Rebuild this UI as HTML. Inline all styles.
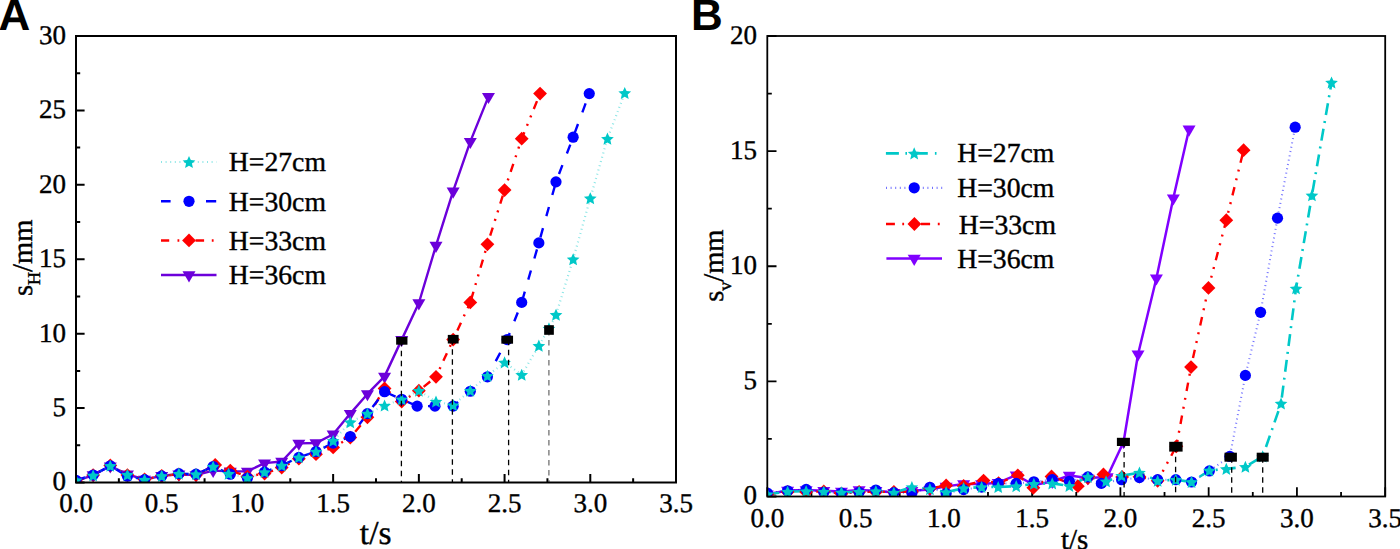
<!DOCTYPE html>
<html><head><meta charset="utf-8"><style>
html,body{margin:0;padding:0;background:#fff;width:1400px;height:549px;overflow:hidden;}
svg{display:block;}
text{text-rendering:geometricPrecision;}
</style></head><body>
<svg width="1400" height="549" viewBox="0 0 1400 549">
<rect width="100%" height="100%" fill="#fff"/>
<clipPath id="clipA"><rect x="76" y="36" width="600" height="446.5"/></clipPath>
<path d="M76,482.5 v-8.6 M118.86,482.5 v-4.2 M161.71,482.5 v-8.6 M204.57,482.5 v-4.2 M247.43,482.5 v-8.6 M290.29,482.5 v-4.2 M333.14,482.5 v-8.6 M376,482.5 v-4.2 M418.86,482.5 v-8.6 M461.71,482.5 v-4.2 M504.57,482.5 v-8.6 M547.43,482.5 v-4.2 M590.29,482.5 v-8.6 M633.14,482.5 v-4.2 M676,482.5 v-8.6 M76,482.5 h8.6 M76,445.29 h4.2 M76,408.08 h8.6 M76,370.88 h4.2 M76,333.67 h8.6 M76,296.46 h4.2 M76,259.25 h8.6 M76,222.04 h4.2 M76,184.83 h8.6 M76,147.62 h4.2 M76,110.42 h8.6 M76,73.21 h4.2 M76,36 h8.6" stroke="#000" stroke-width="2" fill="none"/>
<g clip-path="url(#clipA)">
<path d="M76,481.01 L93.14,475.06 L110.29,466.13 L127.43,474.31 L144.57,479.52 L161.71,475.8 L178.86,474.31 L196,475.06 L213.14,470.59 L230.29,471.34 L247.43,471.34 L264.57,463.15 L281.71,461.51 L298.86,443.36 L316,443.06 L333.14,434.28 L350.29,413.59 L367.43,393.94 L384.57,376.38 L401.71,339.62 L418.86,303.01 L436,245.56 L453.14,191.23 L470.29,141.67 L488.46,96.58" fill="none" stroke="#6C00DA" stroke-width="2.4"  stroke-linejoin="round"/>
<path d="M76,481.01 L93.14,475.06 L110.29,465.38 L127.43,475.06 L144.57,479.52 L161.71,475.8 L178.86,474.31 L196,475.06 L215.2,464.94 L230.29,470.59 L247.43,476.55 L264.57,473.57 L281.71,467.62 L298.86,458.69 L316,454.22 L333.14,447.38 L350.29,437.55 L367.43,417.31 L384.57,388.44 L401.71,401.53 L418.86,390.67 L436,376.83 L453.14,339.62 L470.29,302.41 L487.43,244.37 L504.57,190.04 L521.71,138.69 L540.06,93.6" fill="none" stroke="#FF0000" stroke-width="2.4" stroke-dasharray="8.5 7 2 7 2 7" stroke-linejoin="round"/>
<path d="M76,480.27 L93.14,475.06 L110.29,465.83 L127.43,476.25 L144.57,479.67 L161.71,475.95 L178.86,473.72 L196,474.17 L213.14,466.57 L230.29,474.17 L247.43,478.04 L264.57,472.08 L281.71,465.53 L298.86,457.35 L316,451.54 L333.14,443.06 L350.29,436.51 L367.43,413.59 L384.57,391.71 L401.71,399.3 L417.14,406.15 L434.97,406.15 L453.14,406.15 L470.29,391.27 L487.43,376.83 L507.14,339.62 L521.71,302.41 L538.86,242.88 L556,181.86 L573.14,137.21 L589.26,93.6" fill="none" stroke="#0000FF" stroke-width="2.4" stroke-dasharray="9.5 12.5" stroke-linejoin="round"/>
<path d="M76,480.27 L93.14,475.36 L110.29,465.83 L127.43,474.76 L144.57,479.67 L161.71,475.95 L178.86,473.72 L196,474.17 L213.14,466.57 L228.57,473.72 L247.43,477.89 L264.57,472.08 L281.71,465.53 L298.86,457.35 L316,451.54 L333.14,440.83 L350.29,422.22 L367.43,413.59 L384.57,405.55 L401.71,399.3 L418.86,390.67 L436,401.53 L453.14,405.11 L470.29,390.67 L487.43,375.79 L504.57,362.39 L521.71,374.74 L538.86,345.72 L548.97,328.46 L556,314.76 L573.14,259.25 L590.29,198.23 L607.43,138.69 L624.74,93" fill="none" stroke="#00C8C8" stroke-opacity="0.45" stroke-width="2.2" stroke-dasharray="1 3.4" stroke-linejoin="round"/>
<polygon points="69.5,477.31 82.5,477.31 76,488.41" fill="#6C00DA"/>
<polygon points="86.64,471.36 99.64,471.36 93.14,482.46" fill="#6C00DA"/>
<polygon points="103.79,462.43 116.79,462.43 110.29,473.53" fill="#6C00DA"/>
<polygon points="120.93,470.61 133.93,470.61 127.43,481.71" fill="#6C00DA"/>
<polygon points="138.07,475.82 151.07,475.82 144.57,486.92" fill="#6C00DA"/>
<polygon points="155.21,472.1 168.21,472.1 161.71,483.2" fill="#6C00DA"/>
<polygon points="172.36,470.61 185.36,470.61 178.86,481.71" fill="#6C00DA"/>
<polygon points="189.5,471.36 202.5,471.36 196,482.46" fill="#6C00DA"/>
<polygon points="206.64,466.89 219.64,466.89 213.14,477.99" fill="#6C00DA"/>
<polygon points="223.79,467.64 236.79,467.64 230.29,478.74" fill="#6C00DA"/>
<polygon points="240.93,467.64 253.93,467.64 247.43,478.74" fill="#6C00DA"/>
<polygon points="258.07,459.45 271.07,459.45 264.57,470.55" fill="#6C00DA"/>
<polygon points="275.21,457.81 288.21,457.81 281.71,468.91" fill="#6C00DA"/>
<polygon points="292.36,439.66 305.36,439.66 298.86,450.76" fill="#6C00DA"/>
<polygon points="309.5,439.36 322.5,439.36 316,450.46" fill="#6C00DA"/>
<polygon points="326.64,430.58 339.64,430.58 333.14,441.68" fill="#6C00DA"/>
<polygon points="343.79,409.89 356.79,409.89 350.29,420.99" fill="#6C00DA"/>
<polygon points="360.93,390.24 373.93,390.24 367.43,401.34" fill="#6C00DA"/>
<polygon points="378.07,372.68 391.07,372.68 384.57,383.78" fill="#6C00DA"/>
<polygon points="395.21,335.92 408.21,335.92 401.71,347.02" fill="#6C00DA"/>
<polygon points="412.36,299.31 425.36,299.31 418.86,310.41" fill="#6C00DA"/>
<polygon points="429.5,241.86 442.5,241.86 436,252.96" fill="#6C00DA"/>
<polygon points="446.64,187.53 459.64,187.53 453.14,198.63" fill="#6C00DA"/>
<polygon points="463.79,137.97 476.79,137.97 470.29,149.07" fill="#6C00DA"/>
<polygon points="481.96,92.88 494.96,92.88 488.46,103.98" fill="#6C00DA"/>
<polygon points="76,474.11 82.9,481.01 76,487.91 69.1,481.01" fill="#FF0000"/>
<polygon points="93.14,468.16 100.04,475.06 93.14,481.96 86.24,475.06" fill="#FF0000"/>
<polygon points="110.29,458.48 117.19,465.38 110.29,472.28 103.39,465.38" fill="#FF0000"/>
<polygon points="127.43,468.16 134.33,475.06 127.43,481.96 120.53,475.06" fill="#FF0000"/>
<polygon points="144.57,472.62 151.47,479.52 144.57,486.42 137.67,479.52" fill="#FF0000"/>
<polygon points="161.71,468.9 168.61,475.8 161.71,482.7 154.81,475.8" fill="#FF0000"/>
<polygon points="178.86,467.41 185.76,474.31 178.86,481.21 171.96,474.31" fill="#FF0000"/>
<polygon points="196,468.16 202.9,475.06 196,481.96 189.1,475.06" fill="#FF0000"/>
<polygon points="215.2,458.04 222.1,464.94 215.2,471.84 208.3,464.94" fill="#FF0000"/>
<polygon points="230.29,463.69 237.19,470.59 230.29,477.49 223.39,470.59" fill="#FF0000"/>
<polygon points="247.43,469.65 254.33,476.55 247.43,483.45 240.53,476.55" fill="#FF0000"/>
<polygon points="264.57,466.67 271.47,473.57 264.57,480.47 257.67,473.57" fill="#FF0000"/>
<polygon points="281.71,460.72 288.61,467.62 281.71,474.52 274.81,467.62" fill="#FF0000"/>
<polygon points="298.86,451.79 305.76,458.69 298.86,465.59 291.96,458.69" fill="#FF0000"/>
<polygon points="316,447.32 322.9,454.22 316,461.12 309.1,454.22" fill="#FF0000"/>
<polygon points="333.14,440.48 340.04,447.38 333.14,454.28 326.24,447.38" fill="#FF0000"/>
<polygon points="350.29,430.65 357.19,437.55 350.29,444.45 343.39,437.55" fill="#FF0000"/>
<polygon points="367.43,410.41 374.33,417.31 367.43,424.21 360.53,417.31" fill="#FF0000"/>
<polygon points="384.57,381.54 391.47,388.44 384.57,395.34 377.67,388.44" fill="#FF0000"/>
<polygon points="401.71,394.63 408.61,401.53 401.71,408.43 394.81,401.53" fill="#FF0000"/>
<polygon points="418.86,383.77 425.76,390.67 418.86,397.57 411.96,390.67" fill="#FF0000"/>
<polygon points="436,369.93 442.9,376.83 436,383.73 429.1,376.83" fill="#FF0000"/>
<polygon points="453.14,332.72 460.04,339.62 453.14,346.52 446.24,339.62" fill="#FF0000"/>
<polygon points="470.29,295.51 477.19,302.41 470.29,309.31 463.39,302.41" fill="#FF0000"/>
<polygon points="487.43,237.47 494.33,244.37 487.43,251.27 480.53,244.37" fill="#FF0000"/>
<polygon points="504.57,183.14 511.47,190.04 504.57,196.94 497.67,190.04" fill="#FF0000"/>
<polygon points="521.71,131.79 528.61,138.69 521.71,145.59 514.81,138.69" fill="#FF0000"/>
<polygon points="540.06,86.7 546.96,93.6 540.06,100.5 533.16,93.6" fill="#FF0000"/>
<circle cx="76" cy="480.27" r="5.6" fill="#0000FF"/>
<circle cx="93.14" cy="475.06" r="5.6" fill="#0000FF"/>
<circle cx="110.29" cy="465.83" r="5.6" fill="#0000FF"/>
<circle cx="127.43" cy="476.25" r="5.6" fill="#0000FF"/>
<circle cx="144.57" cy="479.67" r="5.6" fill="#0000FF"/>
<circle cx="161.71" cy="475.95" r="5.6" fill="#0000FF"/>
<circle cx="178.86" cy="473.72" r="5.6" fill="#0000FF"/>
<circle cx="196" cy="474.17" r="5.6" fill="#0000FF"/>
<circle cx="213.14" cy="466.57" r="5.6" fill="#0000FF"/>
<circle cx="230.29" cy="474.17" r="5.6" fill="#0000FF"/>
<circle cx="247.43" cy="478.04" r="5.6" fill="#0000FF"/>
<circle cx="264.57" cy="472.08" r="5.6" fill="#0000FF"/>
<circle cx="281.71" cy="465.53" r="5.6" fill="#0000FF"/>
<circle cx="298.86" cy="457.35" r="5.6" fill="#0000FF"/>
<circle cx="316" cy="451.54" r="5.6" fill="#0000FF"/>
<circle cx="333.14" cy="443.06" r="5.6" fill="#0000FF"/>
<circle cx="350.29" cy="436.51" r="5.6" fill="#0000FF"/>
<circle cx="367.43" cy="413.59" r="5.6" fill="#0000FF"/>
<circle cx="384.57" cy="391.71" r="5.6" fill="#0000FF"/>
<circle cx="401.71" cy="399.3" r="5.6" fill="#0000FF"/>
<circle cx="417.14" cy="406.15" r="5.6" fill="#0000FF"/>
<circle cx="434.97" cy="406.15" r="5.6" fill="#0000FF"/>
<circle cx="453.14" cy="406.15" r="5.6" fill="#0000FF"/>
<circle cx="470.29" cy="391.27" r="5.6" fill="#0000FF"/>
<circle cx="487.43" cy="376.83" r="5.6" fill="#0000FF"/>
<circle cx="507.14" cy="339.62" r="5.6" fill="#0000FF"/>
<circle cx="521.71" cy="302.41" r="5.6" fill="#0000FF"/>
<circle cx="538.86" cy="242.88" r="5.6" fill="#0000FF"/>
<circle cx="556" cy="181.86" r="5.6" fill="#0000FF"/>
<circle cx="573.14" cy="137.21" r="5.6" fill="#0000FF"/>
<circle cx="589.26" cy="93.6" r="5.6" fill="#0000FF"/>
<polygon points="76,474.17 77.82,478.36 82.37,478.8 78.95,481.83 79.94,486.29 76,483.97 72.06,486.29 73.05,481.83 69.63,478.8 74.18,478.36" fill="#00C8C8"/>
<polygon points="93.14,469.26 94.96,473.45 99.51,473.89 96.09,476.91 97.08,481.38 93.14,479.06 89.2,481.38 90.19,476.91 86.77,473.89 91.32,473.45" fill="#00C8C8"/>
<polygon points="110.29,459.73 112.11,463.92 116.66,464.36 113.23,467.39 114.22,471.85 110.29,469.53 106.35,471.85 107.34,467.39 103.91,464.36 108.46,463.92" fill="#00C8C8"/>
<polygon points="127.43,468.66 129.25,472.85 133.8,473.29 130.38,476.32 131.37,480.78 127.43,478.46 123.49,480.78 124.48,476.32 121.06,473.29 125.61,472.85" fill="#00C8C8"/>
<polygon points="144.57,473.57 146.39,477.76 150.94,478.2 147.52,481.23 148.51,485.69 144.57,483.37 140.63,485.69 141.62,481.23 138.2,478.2 142.75,477.76" fill="#00C8C8"/>
<polygon points="161.71,469.85 163.54,474.04 168.09,474.48 164.66,477.51 165.65,481.97 161.71,479.65 157.78,481.97 158.77,477.51 155.34,474.48 159.89,474.04" fill="#00C8C8"/>
<polygon points="178.86,467.62 180.68,471.81 185.23,472.25 181.81,475.28 182.8,479.74 178.86,477.42 174.92,479.74 175.91,475.28 172.49,472.25 177.04,471.81" fill="#00C8C8"/>
<polygon points="196,468.07 197.82,472.26 202.37,472.69 198.95,475.72 199.94,480.19 196,477.87 192.06,480.19 193.05,475.72 189.63,472.69 194.18,472.26" fill="#00C8C8"/>
<polygon points="213.14,460.47 214.96,464.67 219.51,465.1 216.09,468.13 217.08,472.6 213.14,470.27 209.2,472.6 210.19,468.13 206.77,465.1 211.32,464.67" fill="#00C8C8"/>
<polygon points="228.57,467.62 230.39,471.81 234.94,472.25 231.52,475.28 232.51,479.74 228.57,477.42 224.63,479.74 225.62,475.28 222.2,472.25 226.75,471.81" fill="#00C8C8"/>
<polygon points="247.43,471.79 249.25,475.98 253.8,476.42 250.38,479.44 251.37,483.91 247.43,481.59 243.49,483.91 244.48,479.44 241.06,476.42 245.61,475.98" fill="#00C8C8"/>
<polygon points="264.57,465.98 266.39,470.17 270.94,470.61 267.52,473.64 268.51,478.1 264.57,475.78 260.63,478.1 261.62,473.64 258.2,470.61 262.75,470.17" fill="#00C8C8"/>
<polygon points="281.71,459.43 283.54,463.63 288.09,464.06 284.66,467.09 285.65,471.55 281.71,469.23 277.78,471.55 278.77,467.09 275.34,464.06 279.89,463.63" fill="#00C8C8"/>
<polygon points="298.86,451.25 300.68,455.44 305.23,455.88 301.81,458.91 302.8,463.37 298.86,461.05 294.92,463.37 295.91,458.91 292.49,455.88 297.04,455.44" fill="#00C8C8"/>
<polygon points="316,445.44 317.82,449.63 322.37,450.07 318.95,453.1 319.94,457.56 316,455.24 312.06,457.56 313.05,453.1 309.63,450.07 314.18,449.63" fill="#00C8C8"/>
<polygon points="333.14,434.73 334.96,438.92 339.51,439.36 336.09,442.38 337.08,446.85 333.14,444.53 329.2,446.85 330.19,442.38 326.77,439.36 331.32,438.92" fill="#00C8C8"/>
<polygon points="350.29,416.12 352.11,420.31 356.66,420.75 353.23,423.78 354.22,428.24 350.29,425.92 346.35,428.24 347.34,423.78 343.91,420.75 348.46,420.31" fill="#00C8C8"/>
<polygon points="367.43,407.49 369.25,411.68 373.8,412.12 370.38,415.15 371.37,419.61 367.43,417.29 363.49,419.61 364.48,415.15 361.06,412.12 365.61,411.68" fill="#00C8C8"/>
<polygon points="384.57,399.45 386.39,403.65 390.94,404.08 387.52,407.11 388.51,411.57 384.57,409.25 380.63,411.57 381.62,407.11 378.2,404.08 382.75,403.65" fill="#00C8C8"/>
<polygon points="401.71,393.2 403.54,397.39 408.09,397.83 404.66,400.86 405.65,405.32 401.71,403 397.78,405.32 398.77,400.86 395.34,397.83 399.89,397.39" fill="#00C8C8"/>
<polygon points="418.86,384.57 420.68,388.76 425.23,389.2 421.81,392.23 422.8,396.69 418.86,394.37 414.92,396.69 415.91,392.23 412.49,389.2 417.04,388.76" fill="#00C8C8"/>
<polygon points="436,395.43 437.82,399.63 442.37,400.06 438.95,403.09 439.94,407.56 436,405.23 432.06,407.56 433.05,403.09 429.63,400.06 434.18,399.63" fill="#00C8C8"/>
<polygon points="453.14,399.01 454.96,403.2 459.51,403.64 456.09,406.66 457.08,411.13 453.14,408.81 449.2,411.13 450.19,406.66 446.77,403.64 451.32,403.2" fill="#00C8C8"/>
<polygon points="470.29,384.57 472.11,388.76 476.66,389.2 473.23,392.23 474.22,396.69 470.29,394.37 466.35,396.69 467.34,392.23 463.91,389.2 468.46,388.76" fill="#00C8C8"/>
<polygon points="487.43,369.69 489.25,373.88 493.8,374.32 490.38,377.34 491.37,381.81 487.43,379.49 483.49,381.81 484.48,377.34 481.06,374.32 485.61,373.88" fill="#00C8C8"/>
<polygon points="504.57,356.29 506.39,360.48 510.94,360.92 507.52,363.95 508.51,368.41 504.57,366.09 500.63,368.41 501.62,363.95 498.2,360.92 502.75,360.48" fill="#00C8C8"/>
<polygon points="521.71,368.64 523.54,372.84 528.09,373.27 524.66,376.3 525.65,380.77 521.71,378.44 517.78,380.77 518.77,376.3 515.34,373.27 519.89,372.84" fill="#00C8C8"/>
<polygon points="538.86,339.62 540.68,343.81 545.23,344.25 541.81,347.28 542.8,351.74 538.86,349.42 534.92,351.74 535.91,347.28 532.49,344.25 537.04,343.81" fill="#00C8C8"/>
<polygon points="548.97,322.36 550.79,326.55 555.34,326.99 551.92,330.02 552.91,334.48 548.97,332.16 545.03,334.48 546.02,330.02 542.6,326.99 547.15,326.55" fill="#00C8C8"/>
<polygon points="556,308.66 557.82,312.86 562.37,313.29 558.95,316.32 559.94,320.79 556,318.46 552.06,320.79 553.05,316.32 549.63,313.29 554.18,312.86" fill="#00C8C8"/>
<polygon points="573.14,253.15 574.96,257.34 579.51,257.78 576.09,260.81 577.08,265.27 573.14,262.95 569.2,265.27 570.19,260.81 566.77,257.78 571.32,257.34" fill="#00C8C8"/>
<polygon points="590.29,192.13 592.11,196.32 596.66,196.76 593.23,199.79 594.22,204.25 590.29,201.93 586.35,204.25 587.34,199.79 583.91,196.76 588.46,196.32" fill="#00C8C8"/>
<polygon points="607.43,132.59 609.25,136.79 613.8,137.22 610.38,140.25 611.37,144.72 607.43,142.39 603.49,144.72 604.48,140.25 601.06,137.22 605.61,136.79" fill="#00C8C8"/>
<polygon points="624.74,86.9 626.56,91.1 631.11,91.53 627.69,94.56 628.68,99.02 624.74,96.7 620.8,99.02 621.79,94.56 618.37,91.53 622.92,91.1" fill="#00C8C8"/>
<line x1="401.4" y1="340.8" x2="401.4" y2="482.5" stroke="#000" stroke-width="1.3" stroke-dasharray="5.5 4.5"/>
<line x1="452.4" y1="339.2" x2="452.4" y2="482.5" stroke="#000" stroke-width="1.3" stroke-dasharray="5.5 4.5"/>
<line x1="508.6" y1="339.7" x2="508.6" y2="482.5" stroke="#000" stroke-width="1.3" stroke-dasharray="5.5 4.5"/>
<line x1="548.9" y1="330" x2="548.9" y2="482.5" stroke="#707070" stroke-width="1.3" stroke-dasharray="5.5 4.5"/>
<rect x="396.15" y="336.9" width="11.3" height="7.8" fill="#000"/>
<rect x="447.8" y="334.9" width="10.8" height="8.6" fill="#000"/>
<rect x="501.35" y="335.7" width="11.7" height="8" fill="#000"/>
<rect x="544.15" y="325.2" width="9.7" height="9.6" fill="#000"/>
</g>
<rect x="76" y="36" width="600" height="446.5" fill="none" stroke="#000" stroke-width="2"/>
<text x="76" y="512.1" font-family="Liberation Serif" font-size="27" text-anchor="middle"  stroke="#000" stroke-width="0.4">0.0</text>
<text x="161.71" y="512.1" font-family="Liberation Serif" font-size="27" text-anchor="middle"  stroke="#000" stroke-width="0.4">0.5</text>
<text x="247.43" y="512.1" font-family="Liberation Serif" font-size="27" text-anchor="middle"  stroke="#000" stroke-width="0.4">1.0</text>
<text x="333.14" y="512.1" font-family="Liberation Serif" font-size="27" text-anchor="middle"  stroke="#000" stroke-width="0.4">1.5</text>
<text x="418.86" y="512.1" font-family="Liberation Serif" font-size="27" text-anchor="middle"  stroke="#000" stroke-width="0.4">2.0</text>
<text x="504.57" y="512.1" font-family="Liberation Serif" font-size="27" text-anchor="middle"  stroke="#000" stroke-width="0.4">2.5</text>
<text x="590.29" y="512.1" font-family="Liberation Serif" font-size="27" text-anchor="middle"  stroke="#000" stroke-width="0.4">3.0</text>
<text x="676" y="512.1" font-family="Liberation Serif" font-size="27" text-anchor="middle"  stroke="#000" stroke-width="0.4">3.5</text>
<text x="66" y="490.4" font-family="Liberation Serif" font-size="27" text-anchor="end"  stroke="#000" stroke-width="0.4">0</text>
<text x="66" y="415.98" font-family="Liberation Serif" font-size="27" text-anchor="end"  stroke="#000" stroke-width="0.4">5</text>
<text x="66" y="341.57" font-family="Liberation Serif" font-size="27" text-anchor="end"  stroke="#000" stroke-width="0.4">10</text>
<text x="66" y="267.15" font-family="Liberation Serif" font-size="27" text-anchor="end"  stroke="#000" stroke-width="0.4">15</text>
<text x="66" y="192.73" font-family="Liberation Serif" font-size="27" text-anchor="end"  stroke="#000" stroke-width="0.4">20</text>
<text x="66" y="118.32" font-family="Liberation Serif" font-size="27" text-anchor="end"  stroke="#000" stroke-width="0.4">25</text>
<text x="66" y="43.9" font-family="Liberation Serif" font-size="27" text-anchor="end"  stroke="#000" stroke-width="0.4">30</text>
<clipPath id="clipB"><rect x="767.3" y="36" width="617.9" height="460.5"/></clipPath>
<path d="M767.3,496.5 v-9.2 M811.44,496.5 v-4.5 M855.57,496.5 v-9.2 M899.71,496.5 v-4.5 M943.84,496.5 v-9.2 M987.98,496.5 v-4.5 M1032.11,496.5 v-9.2 M1076.25,496.5 v-4.5 M1120.39,496.5 v-9.2 M1164.52,496.5 v-4.5 M1208.66,496.5 v-9.2 M1252.79,496.5 v-4.5 M1296.93,496.5 v-9.2 M1341.06,496.5 v-4.5 M1385.2,496.5 v-9.2 M767.3,496.5 h9.2 M767.3,438.94 h4.5 M767.3,381.38 h9.2 M767.3,323.81 h4.5 M767.3,266.25 h9.2 M767.3,208.69 h4.5 M767.3,151.12 h9.2 M767.3,93.56 h4.5 M767.3,36 h9.2" stroke="#000" stroke-width="1.8" fill="none"/>
<g clip-path="url(#clipB)">
<path d="M767.3,494.2 L787.6,490.51 L806.14,490.05 L823.79,490.74 L841.45,491.43 L859.1,490.05 L875.87,490.74 L893.88,492.59 L911.89,490.74 L929.9,489.59 L946.14,486.37 L963.62,484.07 L981.62,484.07 L998.22,482.69 L1016.23,475.09 L1033.88,484.99 L1052.24,481.53 L1069.36,475.55 L1087.9,478.08 L1107.14,476.93 L1123.56,441.93 L1138.04,354.21 L1156.4,278.22 L1173.35,198.1 L1189.06,129.25" fill="none" stroke="#8000FF" stroke-width="2.5"  stroke-linejoin="round"/>
<path d="M767.3,494.2 L787.6,491.89 L806.14,491.89 L823.79,491.43 L841.45,493.74 L859.1,491.89 L875.87,491.89 L893.88,491.89 L911.89,491.89 L929.9,488.44 L946.14,485.45 L963.62,485.91 L983.57,480.61 L998.57,483.15 L1017.81,475.32 L1033.35,487.75 L1051.53,476.47 L1077.84,486.14 L1087.9,478.08 L1103.44,474.4 L1122.15,476.93 L1139.45,476.7 L1157.64,480.84 L1176.35,446.31 L1191,367.1 L1208.48,287.89 L1226.31,220.2 L1243.61,150.2" fill="none" stroke="#FF0000" stroke-width="2.4" stroke-dasharray="8.5 7 2 7 2 7" stroke-linejoin="round"/>
<path d="M767.3,493.05 L787.6,490.74 L806.14,489.36 L823.79,492.36 L841.45,493.05 L859.1,492.36 L875.87,490.05 L893.88,492.59 L911.89,493.05 L929.9,487.29 L946.14,493.51 L963.62,489.59 L981.62,487.06 L998.22,483.38 L1016.23,483.38 L1033.88,481.76 L1052.24,479.69 L1069.36,481.3 L1087.9,476.93 L1101.32,483.38 L1121.62,479.69 L1139.45,477.62 L1157.64,479.69 L1175.82,479.69 L1191.53,481.99 L1209.36,470.94 L1229.84,456.44 L1245.38,375.39 L1260.56,312.3 L1277.51,218.13 L1295.16,127.18" fill="none" stroke="#0000FF" stroke-opacity="0.55" stroke-width="2.0" stroke-dasharray="1 3.4" stroke-linejoin="round"/>
<path d="M767.3,494.2 L787.6,491.66 L806.14,491.2 L823.79,491.66 L841.45,492.36 L859.1,491.66 L875.87,491.2 L893.88,492.59 L911.89,487.06 L929.9,489.13 L946.14,492.13 L963.62,488.21 L981.62,487.06 L998.22,487.06 L1016.23,486.14 L1033.88,483.84 L1052.24,483.38 L1069.36,485.91 L1087.9,476.93 L1106.09,481.3 L1121.62,475.78 L1139.45,472.55 L1157.64,480.84 L1175.82,479.69 L1191.53,481.99 L1209.36,470.48 L1226.31,468.87 L1245.38,466.8 L1262.68,456.44 L1281.04,403.48 L1296.05,288.35 L1311.93,195.33 L1331.53,82.51" fill="none" stroke="#00C8C8" stroke-width="2.6" stroke-dasharray="12 6 2 6" stroke-linejoin="round"/>
<polygon points="760.8,490.5 773.8,490.5 767.3,501.6" fill="#8000FF"/>
<polygon points="781.1,486.81 794.1,486.81 787.6,497.91" fill="#8000FF"/>
<polygon points="799.64,486.35 812.64,486.35 806.14,497.45" fill="#8000FF"/>
<polygon points="817.29,487.04 830.29,487.04 823.79,498.14" fill="#8000FF"/>
<polygon points="834.95,487.73 847.95,487.73 841.45,498.83" fill="#8000FF"/>
<polygon points="852.6,486.35 865.6,486.35 859.1,497.45" fill="#8000FF"/>
<polygon points="869.37,487.04 882.37,487.04 875.87,498.14" fill="#8000FF"/>
<polygon points="887.38,488.89 900.38,488.89 893.88,499.99" fill="#8000FF"/>
<polygon points="905.39,487.04 918.39,487.04 911.89,498.14" fill="#8000FF"/>
<polygon points="923.4,485.89 936.4,485.89 929.9,496.99" fill="#8000FF"/>
<polygon points="939.64,482.67 952.64,482.67 946.14,493.77" fill="#8000FF"/>
<polygon points="957.12,480.37 970.12,480.37 963.62,491.47" fill="#8000FF"/>
<polygon points="975.12,480.37 988.12,480.37 981.62,491.47" fill="#8000FF"/>
<polygon points="991.72,478.99 1004.72,478.99 998.22,490.08" fill="#8000FF"/>
<polygon points="1009.73,471.39 1022.73,471.39 1016.23,482.49" fill="#8000FF"/>
<polygon points="1027.38,481.29 1040.38,481.29 1033.88,492.39" fill="#8000FF"/>
<polygon points="1045.74,477.83 1058.74,477.83 1052.24,488.93" fill="#8000FF"/>
<polygon points="1062.86,471.85 1075.86,471.85 1069.36,482.95" fill="#8000FF"/>
<polygon points="1081.4,474.38 1094.4,474.38 1087.9,485.48" fill="#8000FF"/>
<polygon points="1100.64,473.23 1113.64,473.23 1107.14,484.33" fill="#8000FF"/>
<polygon points="1117.06,438.23 1130.06,438.23 1123.56,449.33" fill="#8000FF"/>
<polygon points="1131.54,350.51 1144.54,350.51 1138.04,361.61" fill="#8000FF"/>
<polygon points="1149.9,274.52 1162.9,274.52 1156.4,285.62" fill="#8000FF"/>
<polygon points="1166.85,194.4 1179.85,194.4 1173.35,205.5" fill="#8000FF"/>
<polygon points="1182.56,125.55 1195.56,125.55 1189.06,136.65" fill="#8000FF"/>
<polygon points="767.3,487.3 774.2,494.2 767.3,501.1 760.4,494.2" fill="#FF0000"/>
<polygon points="787.6,485 794.5,491.89 787.6,498.79 780.7,491.89" fill="#FF0000"/>
<polygon points="806.14,485 813.04,491.89 806.14,498.79 799.24,491.89" fill="#FF0000"/>
<polygon points="823.79,484.53 830.69,491.43 823.79,498.33 816.89,491.43" fill="#FF0000"/>
<polygon points="841.45,486.84 848.35,493.74 841.45,500.64 834.55,493.74" fill="#FF0000"/>
<polygon points="859.1,485 866,491.89 859.1,498.79 852.2,491.89" fill="#FF0000"/>
<polygon points="875.87,485 882.77,491.89 875.87,498.79 868.97,491.89" fill="#FF0000"/>
<polygon points="893.88,485 900.78,491.89 893.88,498.79 886.98,491.89" fill="#FF0000"/>
<polygon points="911.89,485 918.79,491.89 911.89,498.79 904.99,491.89" fill="#FF0000"/>
<polygon points="929.9,481.54 936.8,488.44 929.9,495.34 923,488.44" fill="#FF0000"/>
<polygon points="946.14,478.55 953.04,485.45 946.14,492.35 939.24,485.45" fill="#FF0000"/>
<polygon points="963.62,479.01 970.52,485.91 963.62,492.81 956.72,485.91" fill="#FF0000"/>
<polygon points="983.57,473.71 990.47,480.61 983.57,487.51 976.67,480.61" fill="#FF0000"/>
<polygon points="998.57,476.25 1005.47,483.15 998.57,490.05 991.67,483.15" fill="#FF0000"/>
<polygon points="1017.81,468.42 1024.71,475.32 1017.81,482.22 1010.91,475.32" fill="#FF0000"/>
<polygon points="1033.35,480.85 1040.25,487.75 1033.35,494.65 1026.45,487.75" fill="#FF0000"/>
<polygon points="1051.53,469.57 1058.43,476.47 1051.53,483.37 1044.63,476.47" fill="#FF0000"/>
<polygon points="1077.84,479.24 1084.74,486.14 1077.84,493.04 1070.94,486.14" fill="#FF0000"/>
<polygon points="1087.9,471.18 1094.8,478.08 1087.9,484.98 1081,478.08" fill="#FF0000"/>
<polygon points="1103.44,467.5 1110.34,474.4 1103.44,481.3 1096.54,474.4" fill="#FF0000"/>
<polygon points="1122.15,470.03 1129.05,476.93 1122.15,483.83 1115.25,476.93" fill="#FF0000"/>
<polygon points="1139.45,469.8 1146.35,476.7 1139.45,483.6 1132.55,476.7" fill="#FF0000"/>
<polygon points="1157.64,473.94 1164.54,480.84 1157.64,487.74 1150.74,480.84" fill="#FF0000"/>
<polygon points="1176.35,439.41 1183.25,446.31 1176.35,453.21 1169.45,446.31" fill="#FF0000"/>
<polygon points="1191,360.2 1197.9,367.1 1191,374 1184.1,367.1" fill="#FF0000"/>
<polygon points="1208.48,280.99 1215.38,287.89 1208.48,294.79 1201.58,287.89" fill="#FF0000"/>
<polygon points="1226.31,213.3 1233.21,220.2 1226.31,227.1 1219.41,220.2" fill="#FF0000"/>
<polygon points="1243.61,143.3 1250.51,150.2 1243.61,157.1 1236.71,150.2" fill="#FF0000"/>
<circle cx="767.3" cy="493.05" r="5.6" fill="#0000FF"/>
<circle cx="787.6" cy="490.74" r="5.6" fill="#0000FF"/>
<circle cx="806.14" cy="489.36" r="5.6" fill="#0000FF"/>
<circle cx="823.79" cy="492.36" r="5.6" fill="#0000FF"/>
<circle cx="841.45" cy="493.05" r="5.6" fill="#0000FF"/>
<circle cx="859.1" cy="492.36" r="5.6" fill="#0000FF"/>
<circle cx="875.87" cy="490.05" r="5.6" fill="#0000FF"/>
<circle cx="893.88" cy="492.59" r="5.6" fill="#0000FF"/>
<circle cx="911.89" cy="493.05" r="5.6" fill="#0000FF"/>
<circle cx="929.9" cy="487.29" r="5.6" fill="#0000FF"/>
<circle cx="946.14" cy="493.51" r="5.6" fill="#0000FF"/>
<circle cx="963.62" cy="489.59" r="5.6" fill="#0000FF"/>
<circle cx="981.62" cy="487.06" r="5.6" fill="#0000FF"/>
<circle cx="998.22" cy="483.38" r="5.6" fill="#0000FF"/>
<circle cx="1016.23" cy="483.38" r="5.6" fill="#0000FF"/>
<circle cx="1033.88" cy="481.76" r="5.6" fill="#0000FF"/>
<circle cx="1052.24" cy="479.69" r="5.6" fill="#0000FF"/>
<circle cx="1069.36" cy="481.3" r="5.6" fill="#0000FF"/>
<circle cx="1087.9" cy="476.93" r="5.6" fill="#0000FF"/>
<circle cx="1101.32" cy="483.38" r="5.6" fill="#0000FF"/>
<circle cx="1121.62" cy="479.69" r="5.6" fill="#0000FF"/>
<circle cx="1139.45" cy="477.62" r="5.6" fill="#0000FF"/>
<circle cx="1157.64" cy="479.69" r="5.6" fill="#0000FF"/>
<circle cx="1175.82" cy="479.69" r="5.6" fill="#0000FF"/>
<circle cx="1191.53" cy="481.99" r="5.6" fill="#0000FF"/>
<circle cx="1209.36" cy="470.94" r="5.6" fill="#0000FF"/>
<circle cx="1229.84" cy="456.44" r="5.6" fill="#0000FF"/>
<circle cx="1245.38" cy="375.39" r="5.6" fill="#0000FF"/>
<circle cx="1260.56" cy="312.3" r="5.6" fill="#0000FF"/>
<circle cx="1277.51" cy="218.13" r="5.6" fill="#0000FF"/>
<circle cx="1295.16" cy="127.18" r="5.6" fill="#0000FF"/>
<polygon points="767.3,488.1 769.12,492.29 773.67,492.73 770.25,495.76 771.24,500.22 767.3,497.9 763.36,500.22 764.35,495.76 760.93,492.73 765.48,492.29" fill="#00C8C8"/>
<polygon points="787.6,485.56 789.42,489.76 793.97,490.19 790.55,493.22 791.54,497.69 787.6,495.36 783.66,497.69 784.65,493.22 781.23,490.19 785.78,489.76" fill="#00C8C8"/>
<polygon points="806.14,485.1 807.96,489.3 812.51,489.73 809.09,492.76 810.08,497.22 806.14,494.9 802.2,497.22 803.19,492.76 799.77,489.73 804.32,489.3" fill="#00C8C8"/>
<polygon points="823.79,485.56 825.62,489.76 830.17,490.19 826.74,493.22 827.73,497.69 823.79,495.36 819.86,497.69 820.85,493.22 817.42,490.19 821.97,489.76" fill="#00C8C8"/>
<polygon points="841.45,486.26 843.27,490.45 847.82,490.89 844.4,493.91 845.39,498.38 841.45,496.06 837.51,498.38 838.5,493.91 835.08,490.89 839.63,490.45" fill="#00C8C8"/>
<polygon points="859.1,485.56 860.92,489.76 865.47,490.19 862.05,493.22 863.04,497.69 859.1,495.36 855.16,497.69 856.15,493.22 852.73,490.19 857.28,489.76" fill="#00C8C8"/>
<polygon points="875.87,485.1 877.7,489.3 882.25,489.73 878.82,492.76 879.81,497.22 875.87,494.9 871.94,497.22 872.93,492.76 869.5,489.73 874.05,489.3" fill="#00C8C8"/>
<polygon points="893.88,486.49 895.7,490.68 900.25,491.12 896.83,494.14 897.82,498.61 893.88,496.29 889.94,498.61 890.93,494.14 887.51,491.12 892.06,490.68" fill="#00C8C8"/>
<polygon points="911.89,480.96 913.71,485.15 918.26,485.59 914.84,488.62 915.83,493.08 911.89,490.76 907.95,493.08 908.94,488.62 905.52,485.59 910.07,485.15" fill="#00C8C8"/>
<polygon points="929.9,483.03 931.72,487.22 936.27,487.66 932.84,490.69 933.83,495.15 929.9,492.83 925.96,495.15 926.95,490.69 923.52,487.66 928.07,487.22" fill="#00C8C8"/>
<polygon points="946.14,486.03 947.96,490.22 952.51,490.65 949.09,493.68 950.08,498.15 946.14,495.83 942.2,498.15 943.19,493.68 939.77,490.65 944.32,490.22" fill="#00C8C8"/>
<polygon points="963.62,482.11 965.44,486.3 969.99,486.74 966.56,489.77 967.55,494.23 963.62,491.91 959.68,494.23 960.67,489.77 957.24,486.74 961.79,486.3" fill="#00C8C8"/>
<polygon points="981.62,480.96 983.45,485.15 988,485.59 984.57,488.62 985.56,493.08 981.62,490.76 977.68,493.08 978.67,488.62 975.25,485.59 979.8,485.15" fill="#00C8C8"/>
<polygon points="998.22,480.96 1000.04,485.15 1004.59,485.59 1001.17,488.62 1002.16,493.08 998.22,490.76 994.28,493.08 995.27,488.62 991.85,485.59 996.4,485.15" fill="#00C8C8"/>
<polygon points="1016.23,480.04 1018.05,484.23 1022.6,484.67 1019.17,487.7 1020.16,492.16 1016.23,489.84 1012.29,492.16 1013.28,487.7 1009.85,484.67 1014.4,484.23" fill="#00C8C8"/>
<polygon points="1033.88,477.74 1035.7,481.93 1040.25,482.37 1036.83,485.39 1037.82,489.86 1033.88,487.54 1029.94,489.86 1030.93,485.39 1027.51,482.37 1032.06,481.93" fill="#00C8C8"/>
<polygon points="1052.24,477.28 1054.06,481.47 1058.61,481.91 1055.19,484.93 1056.18,489.4 1052.24,487.08 1048.3,489.4 1049.29,484.93 1045.87,481.91 1050.42,481.47" fill="#00C8C8"/>
<polygon points="1069.36,479.81 1071.19,484 1075.74,484.44 1072.31,487.47 1073.3,491.93 1069.36,489.61 1065.43,491.93 1066.42,487.47 1062.99,484.44 1067.54,484" fill="#00C8C8"/>
<polygon points="1087.9,470.83 1089.72,475.02 1094.27,475.46 1090.85,478.49 1091.84,482.95 1087.9,480.63 1083.96,482.95 1084.95,478.49 1081.53,475.46 1086.08,475.02" fill="#00C8C8"/>
<polygon points="1106.09,475.2 1107.91,479.4 1112.46,479.83 1109.03,482.86 1110.02,487.32 1106.09,485 1102.15,487.32 1103.14,482.86 1099.71,479.83 1104.26,479.4" fill="#00C8C8"/>
<polygon points="1121.62,469.68 1123.44,473.87 1127.99,474.31 1124.57,477.34 1125.56,481.8 1121.62,479.48 1117.68,481.8 1118.67,477.34 1115.25,474.31 1119.8,473.87" fill="#00C8C8"/>
<polygon points="1139.45,466.45 1141.27,470.65 1145.82,471.08 1142.4,474.11 1143.39,478.57 1139.45,476.25 1135.51,478.57 1136.5,474.11 1133.08,471.08 1137.63,470.65" fill="#00C8C8"/>
<polygon points="1157.64,474.74 1159.46,478.94 1164.01,479.37 1160.58,482.4 1161.57,486.86 1157.64,484.54 1153.7,486.86 1154.69,482.4 1151.26,479.37 1155.81,478.94" fill="#00C8C8"/>
<polygon points="1175.82,473.59 1177.64,477.78 1182.19,478.22 1178.77,481.25 1179.76,485.71 1175.82,483.39 1171.88,485.71 1172.87,481.25 1169.45,478.22 1174,477.78" fill="#00C8C8"/>
<polygon points="1191.53,475.89 1193.35,480.09 1197.9,480.52 1194.48,483.55 1195.47,488.01 1191.53,485.69 1187.59,488.01 1188.58,483.55 1185.16,480.52 1189.71,480.09" fill="#00C8C8"/>
<polygon points="1209.36,464.38 1211.19,468.57 1215.74,469.01 1212.31,472.04 1213.3,476.5 1209.36,474.18 1205.43,476.5 1206.42,472.04 1202.99,469.01 1207.54,468.57" fill="#00C8C8"/>
<polygon points="1226.31,462.77 1228.13,466.96 1232.68,467.4 1229.26,470.43 1230.25,474.89 1226.31,472.57 1222.37,474.89 1223.36,470.43 1219.94,467.4 1224.49,466.96" fill="#00C8C8"/>
<polygon points="1245.38,460.7 1247.2,464.89 1251.75,465.33 1248.33,468.36 1249.32,472.82 1245.38,470.5 1241.44,472.82 1242.43,468.36 1239.01,465.33 1243.56,464.89" fill="#00C8C8"/>
<polygon points="1262.68,450.34 1264.5,454.53 1269.05,454.97 1265.63,457.99 1266.62,462.46 1262.68,460.14 1258.74,462.46 1259.73,457.99 1256.31,454.97 1260.86,454.53" fill="#00C8C8"/>
<polygon points="1281.04,397.38 1282.86,401.57 1287.41,402.01 1283.99,405.04 1284.98,409.5 1281.04,407.18 1277.1,409.5 1278.09,405.04 1274.67,402.01 1279.22,401.57" fill="#00C8C8"/>
<polygon points="1296.05,282.25 1297.87,286.45 1302.42,286.88 1298.99,289.91 1299.98,294.37 1296.05,292.05 1292.11,294.37 1293.1,289.91 1289.67,286.88 1294.22,286.45" fill="#00C8C8"/>
<polygon points="1311.93,189.23 1313.76,193.43 1318.31,193.86 1314.88,196.89 1315.87,201.35 1311.93,199.03 1308,201.35 1308.99,196.89 1305.56,193.86 1310.11,193.43" fill="#00C8C8"/>
<polygon points="1331.53,76.41 1333.35,80.6 1337.9,81.04 1334.48,84.07 1335.47,88.53 1331.53,86.21 1327.59,88.53 1328.58,84.07 1325.16,81.04 1329.71,80.6" fill="#00C8C8"/>
<line x1="1124.1" y1="441.9" x2="1124.1" y2="496.5" stroke="#000" stroke-width="1.3" stroke-dasharray="5.5 4.5"/>
<line x1="1175.6" y1="446.7" x2="1175.6" y2="496.5" stroke="#000" stroke-width="1.3" stroke-dasharray="5.5 4.5"/>
<line x1="1231.7" y1="457.2" x2="1231.7" y2="496.5" stroke="#000" stroke-width="1.3" stroke-dasharray="5.5 4.5"/>
<line x1="1262.7" y1="457.2" x2="1262.7" y2="496.5" stroke="#000" stroke-width="1.3" stroke-dasharray="5.5 4.5"/>
<rect x="1116.9" y="437.8" width="13" height="8.2" fill="#000"/>
<rect x="1169.2" y="441.8" width="13.4" height="9.8" fill="#000"/>
<rect x="1224.5" y="452.7" width="12.4" height="9" fill="#000"/>
<rect x="1256.7" y="452.7" width="12" height="9" fill="#000"/>
</g>
<rect x="767.3" y="36" width="617.9" height="460.5" fill="none" stroke="#000" stroke-width="1.8"/>
<text x="767.3" y="526.8" font-family="Liberation Serif" font-size="27" text-anchor="middle"  stroke="#000" stroke-width="0.4">0.0</text>
<text x="855.57" y="526.8" font-family="Liberation Serif" font-size="27" text-anchor="middle"  stroke="#000" stroke-width="0.4">0.5</text>
<text x="943.84" y="526.8" font-family="Liberation Serif" font-size="27" text-anchor="middle"  stroke="#000" stroke-width="0.4">1.0</text>
<text x="1032.11" y="526.8" font-family="Liberation Serif" font-size="27" text-anchor="middle"  stroke="#000" stroke-width="0.4">1.5</text>
<text x="1120.39" y="526.8" font-family="Liberation Serif" font-size="27" text-anchor="middle"  stroke="#000" stroke-width="0.4">2.0</text>
<text x="1208.66" y="526.8" font-family="Liberation Serif" font-size="27" text-anchor="middle"  stroke="#000" stroke-width="0.4">2.5</text>
<text x="1296.93" y="526.8" font-family="Liberation Serif" font-size="27" text-anchor="middle"  stroke="#000" stroke-width="0.4">3.0</text>
<text x="1385.2" y="526.8" font-family="Liberation Serif" font-size="27" text-anchor="middle"  stroke="#000" stroke-width="0.4">3.5</text>
<text x="756.9" y="504.25" font-family="Liberation Serif" font-size="27" text-anchor="end"  stroke="#000" stroke-width="0.4">0</text>
<text x="756.9" y="389.12" font-family="Liberation Serif" font-size="27" text-anchor="end"  stroke="#000" stroke-width="0.4">5</text>
<text x="756.9" y="274" font-family="Liberation Serif" font-size="27" text-anchor="end"  stroke="#000" stroke-width="0.4">10</text>
<text x="756.9" y="158.88" font-family="Liberation Serif" font-size="27" text-anchor="end"  stroke="#000" stroke-width="0.4">15</text>
<text x="756.9" y="43.75" font-family="Liberation Serif" font-size="27" text-anchor="end"  stroke="#000" stroke-width="0.4">20</text>
<text x="375.7" y="544" font-family="Liberation Serif" font-size="33.5" text-anchor="middle"  stroke="#000" stroke-width="0.4">t/s</text>
<text x="1074.7" y="548.5" font-family="Liberation Serif" font-size="29" text-anchor="middle"  stroke="#000" stroke-width="0.4">t/s</text>
<text transform="translate(32,257.8) rotate(-90)" stroke="#000" stroke-width="0.4" font-family="Liberation Serif" font-size="28.5" text-anchor="middle">s<tspan font-size="18" dy="7.8">H</tspan><tspan dy="-7.8">/mm</tspan></text>
<text transform="translate(723,265.7) rotate(-90)" stroke="#000" stroke-width="0.4" font-family="Liberation Serif" font-size="28.5" text-anchor="middle">s<tspan font-size="18" dy="7.8">v</tspan><tspan dy="-7.8">/mm</tspan></text>
<text x="-1.5" y="29.8" font-family="Liberation Sans" font-size="44" text-anchor="start" font-weight="bold">A</text>
<text x="691" y="29.8" font-family="Liberation Sans" font-size="44" text-anchor="start" font-weight="bold">B</text>
<line x1="161" y1="162" x2="216.5" y2="162" stroke="#00C8C8" stroke-opacity="0.45" stroke-width="2.2" stroke-dasharray="1 3.6"/>
<polygon points="189,155.9 190.82,160.09 195.37,160.53 191.95,163.56 192.94,168.02 189,165.7 185.06,168.02 186.05,163.56 182.63,160.53 187.18,160.09" fill="#00C8C8"/>
<path d="M161,201.3 h9.6 M206,201.3 h10.2" stroke="#0000FF" stroke-width="2.5"/>
<circle cx="189" cy="201.3" r="5.6" fill="#0000FF"/>
<path d="M161,240.4 h8.2 M177.5,240.4 h1.8 M195.5,240.4 h8.6 M211.8,240.4 h1.8" stroke="#FF0000" stroke-width="2.5"/>
<polygon points="189,233.5 195.9,240.4 189,247.3 182.1,240.4" fill="#FF0000"/>
<line x1="161" y1="275" x2="216.5" y2="275" stroke="#6C00DA" stroke-width="2.3"/>
<polygon points="182.5,271.3 195.5,271.3 189,282.4" fill="#6C00DA"/>
<text x="228.8" y="171.3" font-family="Liberation Serif" font-size="27.7" text-anchor="start"  stroke="#000" stroke-width="0.4">H=27cm</text>
<text x="228.8" y="211.15" font-family="Liberation Serif" font-size="27.7" text-anchor="start"  stroke="#000" stroke-width="0.4">H=30cm</text>
<text x="228.8" y="250.1" font-family="Liberation Serif" font-size="27.7" text-anchor="start"  stroke="#000" stroke-width="0.4">H=33cm</text>
<text x="228.8" y="284" font-family="Liberation Serif" font-size="27.7" text-anchor="start"  stroke="#000" stroke-width="0.4">H=36cm</text>
<path d="M885.9,153.4 h13 M905.4,153.4 h1.6 M914.6,153.4 h13.2 M934.9,153.4 h1.6" stroke="#00C8C8" stroke-width="2.7"/>
<polygon points="914.2,147.3 916.02,151.49 920.57,151.93 917.15,154.96 918.14,159.42 914.2,157.1 910.26,159.42 911.25,154.96 907.83,151.93 912.38,151.49" fill="#00C8C8"/>
<line x1="886" y1="187.8" x2="944" y2="187.8" stroke="#0000FF" stroke-opacity="0.55" stroke-width="2.2" stroke-dasharray="1 3.6"/>
<circle cx="914.2" cy="187.8" r="5.6" fill="#0000FF"/>
<path d="M886,224 h8.9 M902.3,224 h1.8 M920.9,224 h9.2 M937.8,224 h1.9" stroke="#FF0000" stroke-width="2.5"/>
<polygon points="914.4,217.1 921.3,224 914.4,230.9 907.5,224" fill="#FF0000"/>
<line x1="886.4" y1="258.5" x2="942" y2="258.5" stroke="#8000FF" stroke-width="2.3"/>
<polygon points="907.7,254.8 920.7,254.8 914.2,265.9" fill="#8000FF"/>
<text x="957.2" y="162.35" font-family="Liberation Serif" font-size="27.7" text-anchor="start"  stroke="#000" stroke-width="0.4">H=27cm</text>
<text x="957.2" y="197.4" font-family="Liberation Serif" font-size="27.7" text-anchor="start"  stroke="#000" stroke-width="0.4">H=30cm</text>
<text x="958.8" y="233.75" font-family="Liberation Serif" font-size="27.7" text-anchor="start"  stroke="#000" stroke-width="0.4">H=33cm</text>
<text x="957.2" y="267.55" font-family="Liberation Serif" font-size="27.7" text-anchor="start"  stroke="#000" stroke-width="0.4">H=36cm</text>
</svg>
</body></html>
